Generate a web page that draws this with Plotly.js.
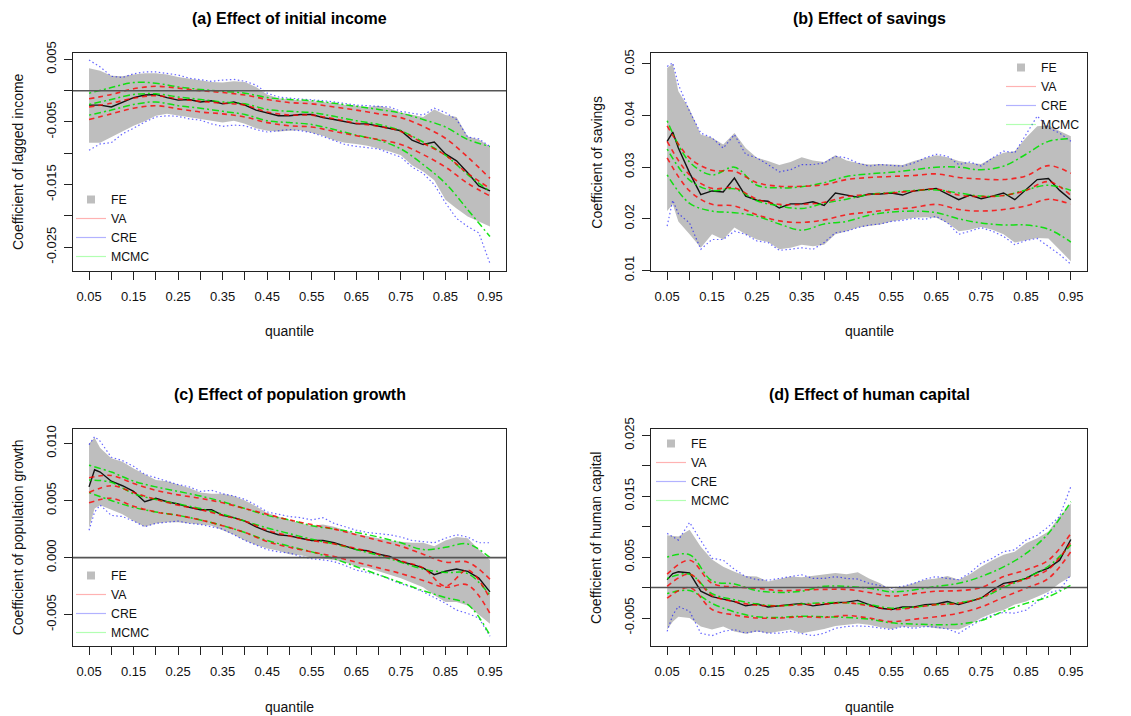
<!DOCTYPE html>
<html>
<head>
<meta charset="utf-8">
<script src="https://cdn.plot.ly/plotly-3.0.1.min.js"></script>
<style>html,body{margin:0;padding:0;background:#fff;}#chart{width:1131px;height:716px;}</style>
</head>
<body>
<div id="chart"></div>
<script>
// quantile grids
const q = [0.05,0.0625,0.075,0.1,0.125,0.15,0.175,0.2,0.225,0.25,0.275,0.3,0.325,0.35,0.375,0.4,0.425,0.45,0.475,0.5,0.525,0.55,0.575,0.6,0.625,0.65,0.675,0.7,0.725,0.75,0.775,0.8,0.825,0.85,0.875,0.9,0.925,0.95];
const q5 = [0.05,0.1,0.15,0.2,0.25,0.3,0.35,0.4,0.45,0.5,0.55,0.6,0.65,0.7,0.75,0.8,0.85,0.9,0.95];

// (a) initial income
const a_fe    = [-0.0023,-0.0023,-0.0023,-0.0026,-0.0018,-0.0011,-0.0007,-0.0006,-0.0011,-0.0015,-0.0014,-0.0018,-0.0016,-0.0021,-0.0018,-0.0023,-0.0031,-0.0036,-0.0040,-0.0040,-0.0038,-0.0038,-0.0043,-0.0046,-0.0050,-0.0053,-0.0053,-0.0057,-0.0060,-0.0064,-0.0079,-0.0086,-0.0082,-0.0101,-0.0112,-0.0131,-0.0152,-0.0160];
const a_fe_hi = [0.0036,0.0034,0.0032,0.0024,0.0023,0.0026,0.0028,0.0028,0.0026,0.0022,0.0019,0.0017,0.0014,0.0013,0.0015,0.0014,0.0006,-0.0006,-0.0012,-0.0014,-0.0015,-0.0016,-0.0018,-0.0020,-0.0023,-0.0024,-0.0026,-0.0024,-0.0028,-0.0035,-0.0039,-0.0042,-0.0030,-0.0039,-0.0042,-0.0073,-0.0078,-0.0089];
const a_fe_lo = [-0.0083,-0.0083,-0.0083,-0.0073,-0.0065,-0.0056,-0.0049,-0.0040,-0.0037,-0.0039,-0.0043,-0.0046,-0.0048,-0.0051,-0.0048,-0.0053,-0.0060,-0.0064,-0.0065,-0.0064,-0.0063,-0.0067,-0.0072,-0.0079,-0.0083,-0.0085,-0.0088,-0.0092,-0.0097,-0.0103,-0.0119,-0.0129,-0.0143,-0.0174,-0.0188,-0.0201,-0.0209,-0.0217];
const a_cre_hi = [0.0049,0.0044,0.0038,0.0023,0.0021,0.0027,0.0030,0.0030,0.0027,0.0025,0.0020,0.0017,0.0015,0.0017,0.0018,0.0015,0.0009,-0.0004,-0.0010,-0.0012,-0.0013,-0.0014,-0.0016,-0.0018,-0.0021,-0.0023,-0.0024,-0.0025,-0.0026,-0.0033,-0.0036,-0.0039,-0.0028,-0.0035,-0.0046,-0.0074,-0.0077,-0.0089];
const a_cre_lo = [-0.0095,-0.0090,-0.0085,-0.0083,-0.0069,-0.0060,-0.0050,-0.0042,-0.0040,-0.0041,-0.0045,-0.0047,-0.0053,-0.0057,-0.0055,-0.0056,-0.0062,-0.0066,-0.0064,-0.0062,-0.0064,-0.0067,-0.0073,-0.0079,-0.0086,-0.0089,-0.0091,-0.0093,-0.0100,-0.0106,-0.0122,-0.0132,-0.0150,-0.0179,-0.0204,-0.0217,-0.0227,-0.0276];
const a_va    = [-0.0026,-0.0020,-0.0012,-0.0008,-0.0013,-0.0017,-0.0020,-0.0023,-0.0034,-0.0039,-0.0039,-0.0045,-0.0052,-0.0057,-0.0065,-0.0084,-0.0103,-0.0132,-0.0156];
const a_va_hi = [-0.0013,-0.0006,0.0003,0.0007,0.0004,0.0000,-0.0003,-0.0007,-0.0014,-0.0019,-0.0021,-0.0026,-0.0031,-0.0037,-0.0043,-0.0057,-0.0076,-0.0106,-0.0140];
const a_va_lo = [-0.0046,-0.0037,-0.0028,-0.0024,-0.0029,-0.0034,-0.0037,-0.0042,-0.0051,-0.0056,-0.0058,-0.0065,-0.0072,-0.0078,-0.0086,-0.0102,-0.0122,-0.0148,-0.0168];
const a_mc    = [-0.0022,-0.0014,-0.0006,-0.0005,-0.0010,-0.0014,-0.0018,-0.0021,-0.0030,-0.0033,-0.0035,-0.0041,-0.0048,-0.0054,-0.0064,-0.0082,-0.0103,-0.0134,-0.0161];
const a_mc_hi = [-0.0004,0.0005,0.0013,0.0012,0.0006,0.0002,-0.0001,-0.0004,-0.0011,-0.0014,-0.0016,-0.0020,-0.0025,-0.0030,-0.0036,-0.0046,-0.0058,-0.0078,-0.0089];
const a_mc_lo = [-0.0039,-0.0031,-0.0022,-0.0018,-0.0024,-0.0028,-0.0033,-0.0038,-0.0048,-0.0051,-0.0054,-0.0062,-0.0071,-0.0079,-0.0093,-0.0118,-0.0148,-0.0190,-0.0233];

// (b) savings
const b_fe    = [0.0350,0.0368,0.0337,0.0289,0.0247,0.0254,0.0252,0.0279,0.0244,0.0236,0.0234,0.0221,0.0229,0.0229,0.0233,0.0226,0.0250,0.0246,0.0242,0.0248,0.0248,0.0250,0.0246,0.0254,0.0257,0.0259,0.0248,0.0237,0.0246,0.0239,0.0244,0.0250,0.0237,0.0257,0.0276,0.0278,0.0255,0.0237];
const b_fe_hi = [0.0492,0.0500,0.0447,0.0412,0.0363,0.0357,0.0344,0.0366,0.0337,0.0318,0.0312,0.0304,0.0310,0.0319,0.0313,0.0310,0.0323,0.0313,0.0308,0.0305,0.0306,0.0305,0.0304,0.0312,0.0318,0.0323,0.0319,0.0312,0.0308,0.0306,0.0318,0.0328,0.0331,0.0357,0.0379,0.0381,0.0370,0.0360];
const b_fe_lo = [0.0215,0.0228,0.0195,0.0170,0.0144,0.0170,0.0160,0.0183,0.0170,0.0160,0.0155,0.0141,0.0144,0.0150,0.0147,0.0150,0.0170,0.0176,0.0183,0.0186,0.0189,0.0195,0.0199,0.0202,0.0203,0.0202,0.0192,0.0176,0.0179,0.0184,0.0179,0.0170,0.0154,0.0158,0.0163,0.0162,0.0141,0.0118];
const b_cre_hi = [0.0495,0.0502,0.0460,0.0408,0.0366,0.0357,0.0337,0.0363,0.0325,0.0318,0.0305,0.0291,0.0295,0.0305,0.0305,0.0308,0.0321,0.0318,0.0308,0.0302,0.0305,0.0304,0.0302,0.0308,0.0318,0.0325,0.0321,0.0305,0.0310,0.0302,0.0318,0.0331,0.0328,0.0363,0.0399,0.0376,0.0366,0.0350];
const b_cre_lo = [0.0186,0.0236,0.0210,0.0192,0.0141,0.0160,0.0160,0.0176,0.0170,0.0157,0.0154,0.0139,0.0141,0.0144,0.0141,0.0154,0.0173,0.0176,0.0183,0.0188,0.0190,0.0195,0.0197,0.0201,0.0199,0.0205,0.0192,0.0170,0.0176,0.0183,0.0176,0.0166,0.0150,0.0158,0.0162,0.0147,0.0131,0.0112];
const b_va    = [0.0350,0.0285,0.0259,0.0260,0.0238,0.0228,0.0228,0.0232,0.0243,0.0247,0.0250,0.0254,0.0258,0.0246,0.0243,0.0245,0.0255,0.0272,0.0245];
const b_va_hi = [0.0380,0.0318,0.0294,0.0292,0.0270,0.0263,0.0263,0.0266,0.0276,0.0280,0.0282,0.0284,0.0287,0.0280,0.0277,0.0276,0.0283,0.0303,0.0288];
const b_va_lo = [0.0318,0.0254,0.0228,0.0225,0.0208,0.0196,0.0193,0.0198,0.0208,0.0213,0.0218,0.0222,0.0228,0.0218,0.0215,0.0218,0.0225,0.0238,0.0228];
const b_mc    = [0.0335,0.0275,0.0255,0.0258,0.0235,0.0225,0.0220,0.0230,0.0238,0.0247,0.0251,0.0255,0.0256,0.0250,0.0244,0.0245,0.0256,0.0265,0.0255];
const b_mc_hi = [0.0390,0.0310,0.0285,0.0300,0.0265,0.0260,0.0262,0.0270,0.0282,0.0287,0.0290,0.0295,0.0300,0.0300,0.0295,0.0302,0.0325,0.0350,0.0355];
const b_mc_lo = [0.0285,0.0230,0.0215,0.0212,0.0205,0.0190,0.0178,0.0190,0.0195,0.0207,0.0213,0.0215,0.0212,0.0200,0.0192,0.0188,0.0188,0.0180,0.0155];

// (c) population growth
const c_fe    = [0.0062,0.0077,0.0075,0.0067,0.0063,0.0058,0.0049,0.0052,0.0049,0.0047,0.0044,0.0042,0.0042,0.0037,0.0035,0.0032,0.0027,0.0023,0.0020,0.0019,0.0017,0.0015,0.0015,0.0013,0.0010,0.0007,0.0006,0.0003,0.0001,-0.00035,-0.0006,-0.0009,-0.0015,-0.0012,-0.0010,-0.0012,-0.0018,-0.0030];
const c_fe_hi = [0.0100,0.0105,0.0096,0.0087,0.0084,0.0078,0.0073,0.0068,0.0067,0.0064,0.0061,0.0057,0.0056,0.0056,0.0054,0.0050,0.0045,0.0039,0.0036,0.0033,0.0030,0.0028,0.0029,0.0027,0.0024,0.0021,0.0019,0.0017,0.0015,0.0014,0.0013,0.0013,0.0010,0.0015,0.0018,0.0017,0.0007,-0.0002];
const c_fe_lo = [0.0026,0.0043,0.0046,0.0042,0.0038,0.0032,0.0027,0.0030,0.0031,0.0031,0.0030,0.0029,0.0028,0.0024,0.0020,0.0015,0.0011,0.0008,0.0006,0.0003,0.0002,0.0000,-0.0001,-0.0002,-0.0004,-0.0008,-0.0009,-0.0012,-0.0015,-0.0018,-0.0022,-0.0026,-0.0033,-0.0039,-0.0039,-0.0042,-0.0050,-0.0058];
const c_cre_hi = [0.0099,0.0106,0.0102,0.0088,0.0085,0.0080,0.0073,0.0070,0.0067,0.0064,0.0062,0.0058,0.0059,0.0056,0.0054,0.0051,0.0046,0.0040,0.0038,0.0036,0.0035,0.0033,0.0035,0.0030,0.0027,0.0024,0.0022,0.0021,0.0020,0.0018,0.0015,0.0014,0.0013,0.0017,0.0020,0.0018,0.0013,0.0013];
const c_cre_lo = [0.0024,0.0040,0.0046,0.0037,0.0036,0.0032,0.0027,0.0030,0.0031,0.0032,0.0030,0.0029,0.0027,0.0025,0.0020,0.0015,0.0011,0.0007,0.0005,0.0004,0.0001,-0.0001,-0.0002,-0.00035,-0.0007,-0.0011,-0.0013,-0.0015,-0.0019,-0.0023,-0.0026,-0.0030,-0.0035,-0.0040,-0.0046,-0.0049,-0.0053,-0.0069];
const c_va    = [0.0057,0.0063,0.0057,0.0051,0.0046,0.0042,0.0037,0.0032,0.0024,0.0019,0.0015,0.0012,0.0008,0.0003,-0.0003,-0.0009,-0.0025,-0.0011,-0.0036];
const c_va_hi = [0.0070,0.0072,0.0065,0.0059,0.0055,0.0052,0.0048,0.0043,0.0038,0.0033,0.0029,0.0025,0.0020,0.0015,0.0010,0.0003,-0.0004,-0.0004,-0.0019];
const c_va_lo = [0.0048,0.0052,0.0045,0.0040,0.0037,0.0033,0.0028,0.0022,0.0014,0.0009,0.0005,0.0001,-0.0004,-0.0009,-0.0014,-0.0020,-0.0026,-0.0024,-0.0049];
const c_mc    = [0.0068,0.0066,0.0056,0.0051,0.0047,0.0043,0.0038,0.0032,0.0026,0.0021,0.0016,0.0012,0.0007,0.0002,-0.0004,-0.0010,-0.0013,-0.0014,-0.0033];
const c_mc_hi = [0.0081,0.0075,0.0067,0.0062,0.0058,0.0054,0.0049,0.0043,0.0037,0.0033,0.0028,0.0025,0.0022,0.0018,0.0013,0.0007,0.0009,0.0012,0.0000];
const c_mc_lo = [0.0057,0.0050,0.0044,0.0040,0.0037,0.0033,0.0028,0.0022,0.0015,0.0010,0.0005,-0.0001,-0.0008,-0.0015,-0.0022,-0.0029,-0.0035,-0.0041,-0.0068];

// (d) human capital
const d_fe    = [0.0013,0.0023,0.0026,0.0024,-0.0006,-0.0015,-0.0019,-0.0023,-0.0030,-0.0027,-0.0032,-0.0030,-0.0028,-0.0026,-0.0030,-0.0027,-0.0025,-0.0024,-0.0021,-0.0028,-0.0034,-0.0036,-0.0032,-0.0032,-0.0028,-0.0027,-0.0023,-0.0028,-0.0023,-0.00175,-0.0004,0.0007,0.0010,0.0015,0.0025,0.0032,0.0045,0.0079];
const d_fe_hi = [0.0086,0.0085,0.0084,0.0095,0.0067,0.0046,0.0034,0.0026,0.0019,0.0018,0.0010,0.0014,0.0018,0.0017,0.0019,0.0022,0.0024,0.0022,0.0025,0.0015,0.0007,-0.0004,0.0002,0.0007,0.0013,0.0015,0.0019,0.0013,0.0022,0.0034,0.0045,0.0054,0.0059,0.0073,0.0081,0.0092,0.0117,0.0138];
const d_fe_lo = [-0.0069,-0.0056,-0.0048,-0.0050,-0.0064,-0.0069,-0.0064,-0.0072,-0.0076,-0.0072,-0.0075,-0.0072,-0.0069,-0.0075,-0.0072,-0.0068,-0.0063,-0.0061,-0.0059,-0.0061,-0.0065,-0.0068,-0.0064,-0.0065,-0.0064,-0.0067,-0.0068,-0.0069,-0.0061,-0.0050,-0.0042,-0.0037,-0.0028,-0.0023,-0.0015,-0.0007,0.0007,0.0018];
const d_cre_hi = [0.0089,0.0083,0.0078,0.0107,0.0078,0.0048,0.0045,0.0030,0.0018,0.0013,0.0012,0.0015,0.0018,0.0021,0.0015,0.0015,0.0018,0.0015,0.0014,0.0007,0.0003,-0.0001,0.0002,0.0007,0.0014,0.0018,0.0015,0.0013,0.0024,0.0040,0.0048,0.0059,0.0062,0.0078,0.0086,0.0100,0.0117,0.0166];
const d_cre_lo = [-0.0072,-0.0045,-0.0031,-0.0039,-0.0075,-0.0079,-0.0072,-0.0069,-0.0075,-0.0071,-0.0075,-0.0075,-0.0072,-0.0076,-0.0079,-0.0075,-0.0067,-0.0064,-0.0063,-0.0064,-0.0067,-0.0069,-0.0064,-0.0067,-0.0064,-0.0065,-0.0068,-0.0075,-0.0064,-0.0053,-0.0045,-0.0041,-0.0042,-0.0037,-0.0023,-0.0009,-0.0004,0.0021];
const d_va    = [0.0002,0.0022,-0.0013,-0.0023,-0.0029,-0.0030,-0.0028,-0.0027,-0.0025,-0.0030,-0.0036,-0.0033,-0.0028,-0.0026,-0.0017,0.0003,0.0014,0.0030,0.0074];
const d_va_hi = [0.0022,0.0045,0.0007,0.0001,-0.0001,-0.0005,-0.0004,-0.0003,-0.0003,-0.0008,-0.0014,-0.0010,-0.0006,-0.0005,0.0000,0.0018,0.0029,0.0045,0.0089];
const d_va_lo = [-0.00175,0.0000,-0.0036,-0.0045,-0.0050,-0.0050,-0.0048,-0.0049,-0.0046,-0.0050,-0.0056,-0.0052,-0.0048,-0.0042,-0.0032,-0.0016,-0.0001,0.0015,0.0059];
const d_mc    = [0.0015,0.0022,-0.0010,-0.0020,-0.0027,-0.0030,-0.0027,-0.0025,-0.0025,-0.0028,-0.0034,-0.0032,-0.0028,-0.0025,-0.0017,0.0000,0.0016,0.0035,0.0070];
const d_mc_hi = [0.0050,0.0054,0.0011,0.0006,-0.0005,-0.0008,-0.0006,0.0002,0.0002,-0.0001,-0.0007,-0.0004,0.0002,0.0007,0.0018,0.0034,0.0056,0.0089,0.0141];
const d_mc_lo = [-0.0010,-0.0005,-0.0026,-0.0040,-0.0048,-0.0049,-0.0047,-0.0048,-0.0049,-0.0052,-0.0058,-0.0060,-0.0061,-0.0060,-0.0054,-0.0039,-0.0026,-0.0015,0.0004];

// tick labels
const xTickVals = [0.05,0.10,0.15,0.20,0.25,0.30,0.35,0.40,0.45,0.50,0.55,0.60,0.65,0.70,0.75,0.80,0.85,0.90,0.95];
const xTickText = ['0.05','','0.15','','0.25','','0.35','','0.45','','0.55','','0.65','','0.75','','0.85','','0.95'];
const aTickVals = [0.005,0,-0.005,-0.010,-0.015,-0.020,-0.025];
const aTickText = ['0.005','','-0.005','','-0.015','','-0.025'];
const bTickVals = [0.01,0.02,0.03,0.04,0.05];
const bTickText = ['0.01','0.02','0.03','0.04','0.05'];
const cTickVals = [-0.005,0,0.005,0.010];
const cTickText = ['-0.005','0.000','0.005','0.010'];
const dTickVals = [-0.005,0,0.005,0.010,0.015,0.020,0.025];
const dTickText = ['-0.005','','0.005','','0.015','','0.025'];

const titles = ['(a) Effect of initial income','(b) Effect of savings','(c) Effect of population growth','(d) Effect of human capital'];
const yLabels = ['Coefficient of lagged income','Coefficient of savings','Coefficient of population growth','Coefficient of human capital'];
const legendNames = ['FE','VA','CRE','MCMC'];

const FONT = 'Liberation Sans, Arial, Helvetica, sans-serif';
const RED = 'rgba(255,0,0,0.8)', GREEN = 'rgba(0,225,0,0.9)', BLUE = 'rgba(0,0,255,0.6)';

const panels = [
  {xa:'x',  ya:'y',  fe:a_fe, lo:a_fe_lo, hi:a_fe_hi, clo:a_cre_lo, chi:a_cre_hi, va:a_va, vlo:a_va_lo, vhi:a_va_hi, mc:a_mc, mlo:a_mc_lo, mhi:a_mc_hi},
  {xa:'x2', ya:'y2', fe:b_fe, lo:b_fe_lo, hi:b_fe_hi, clo:b_cre_lo, chi:b_cre_hi, va:b_va, vlo:b_va_lo, vhi:b_va_hi, mc:b_mc, mlo:b_mc_lo, mhi:b_mc_hi},
  {xa:'x3', ya:'y3', fe:c_fe, lo:c_fe_lo, hi:c_fe_hi, clo:c_cre_lo, chi:c_cre_hi, va:c_va, vlo:c_va_lo, vhi:c_va_hi, mc:c_mc, mlo:c_mc_lo, mhi:c_mc_hi},
  {xa:'x4', ya:'y4', fe:d_fe, lo:d_fe_lo, hi:d_fe_hi, clo:d_cre_lo, chi:d_cre_hi, va:d_va, vlo:d_va_lo, vhi:d_va_hi, mc:d_mc, mlo:d_mc_lo, mhi:d_mc_hi}
];

const traces = [];
function ln(x, y, p, color, width, dash, shape) {
  return {type:'scatter', mode:'lines', x:x, y:y, xaxis:p.xa, yaxis:p.ya, showlegend:false, hoverinfo:'skip',
          line:{color:color, width:width, dash:dash, shape:shape||'linear', smoothing:1}};
}
const legIds = ['legend','legend2','legend3','legend4'];
panels.forEach((p, i) => {
  traces.push({type:'scatter', mode:'lines', x:q.concat(q.slice().reverse()), y:p.hi.concat(p.lo.slice().reverse()),
               fill:'toself', fillcolor:'#bebebe', line:{width:0, color:'#bebebe'}, xaxis:p.xa, yaxis:p.ya, showlegend:false, hoverinfo:'skip'});
  traces.push(ln(q, p.chi, p, BLUE, 1.2, '1.5px,2.5px'));
  traces.push(ln(q, p.clo, p, BLUE, 1.2, '1.5px,2.5px'));
  traces.push(ln(q, p.fe, p, 'rgba(0,0,0,0.9)', 1.4, 'solid'));
  traces.push(ln(q5, p.mhi, p, GREEN, 1.5, '2px,3px,7px,3px', 'spline'));
  traces.push(ln(q5, p.mlo, p, GREEN, 1.5, '2px,3px,7px,3px', 'spline'));
  traces.push(ln(q5, p.mc, p, GREEN, 1.5, '2px,3px,7px,3px', 'spline'));
  traces.push(ln(q5, p.vhi, p, RED, 1.6, '5px,4px', 'spline'));
  traces.push(ln(q5, p.vlo, p, RED, 1.6, '5px,4px', 'spline'));
  traces.push(ln(q5, p.va, p, RED, 1.6, '5px,4px', 'spline'));
  // legend entries
  traces.push({type:'scatter', mode:'markers', x:[null], y:[null], name:legendNames[0], legend:legIds[i], xaxis:p.xa, yaxis:p.ya,
               marker:{symbol:'square', size:8, color:'#bebebe'}});
  [['rgba(255,0,0,0.3)',1],['rgba(0,0,255,0.3)',2],['rgba(0,255,0,0.3)',3]].forEach(([c,k]) => {
    traces.push({type:'scatter', mode:'lines', x:[null], y:[null], name:legendNames[k], legend:legIds[i], xaxis:p.xa, yaxis:p.ya,
                 line:{color:c, width:1.2}});
  });
});

const W = 1131, H = 716;
const colX = [[73,506],[651,1087]];
const rowY = [[53,271],[428.7,646]];
function xd(c){ return [colX[c][0]/W, colX[c][1]/W]; }
function yd(r){ return [1-rowY[r][1]/H, 1-rowY[r][0]/H]; }

function xaxis(c, yanchor) {
  return {domain:xd(c), anchor:yanchor, range:[0.014,0.986], showline:true, mirror:true, linecolor:'#222', linewidth:1,
          ticks:'outside', ticklen:8, tickwidth:1, tickcolor:'#222', tickmode:'array', tickvals:xTickVals, ticktext:xTickText,
          showgrid:false, zeroline:false, tickfont:{family:FONT, size:13, color:'#111'}, ticklabelstandoff:5};
}
function yaxis(r, c, xanchor, range, tv, tt) {
  return {domain:yd(r), anchor:xanchor, range:range, showline:true, mirror:true, linecolor:'#222', linewidth:1,
          ticks:'outside', ticklen:8, tickwidth:1, tickcolor:'#222', tickmode:'array', tickvals:tv, ticktext:tt, tickangle:-90,
          showgrid:false, zeroline:false, tickfont:{family:FONT, size:13, color:'#111'}, ticklabelstandoff:3};
}

const annotations = [];
const cells = [[0,0],[0,1],[1,0],[1,1]];
const titleY = [18.3, 18.3, 394, 394];
const xlabY = [331, 331, 706.7, 706.7];
const ylabX = [18, 596.7, 18, 596.7];
cells.forEach(([r,c], i) => {
  const cx = (colX[c][0]+colX[c][1])/2/W;
  const cy = 1 - (rowY[r][0]+rowY[r][1])/2/H;
  annotations.push({text:'<b>'+titles[i]+'</b>', xref:'paper', yref:'paper', x:cx, y:1-titleY[i]/H, xanchor:'center', yanchor:'middle',
                    showarrow:false, font:{family:FONT, size:16, color:'#000'}});
  annotations.push({text:'quantile', xref:'paper', yref:'paper', x:cx, y:1-xlabY[i]/H, xanchor:'center', yanchor:'middle',
                    showarrow:false, font:{family:FONT, size:14, color:'#111'}});
  annotations.push({text:yLabels[i], xref:'paper', yref:'paper', x:ylabX[i]/W, y:cy, xanchor:'center', yanchor:'middle', textangle:-90,
                    showarrow:false, font:{family:FONT, size:14, color:'#111'}});
});

const shapes = ['y','y3','y4'].map((ya, k) => ({type:'line', xref:['x','x3','x4'][k]+' domain', x0:0, x1:1, yref:ya, y0:0, y1:0,
                line:{color:'#555', width:1.6}}));

function legend(xpx, ypx) {
  return {x:xpx/W, y:1-ypx/H, xanchor:'left', yanchor:'top', bgcolor:'rgba(0,0,0,0)', borderwidth:0,
          font:{family:FONT, size:12.3, color:'#111'}, itemwidth:30, tracegroupgap:0};
}

const layout = {
  width:W, height:H, margin:{l:0,r:0,t:0,b:0}, paper_bgcolor:'#fff', plot_bgcolor:'#fff', showlegend:true,
  font:{family:FONT},
  xaxis: xaxis(0,'y'), yaxis: yaxis(0,0,'x',[-0.0288,0.00602], aTickVals, aTickText),
  xaxis2: xaxis(1,'y2'), yaxis2: yaxis(0,1,'x2',[0.0099,0.0521], bTickVals, bTickText),
  xaxis3: xaxis(0,'y3'), yaxis3: yaxis(1,0,'x3',[-0.00775,0.0113], cTickVals, cTickText),
  xaxis4: xaxis(1,'y4'), yaxis4: yaxis(1,1,'x4',[-0.0096,0.0261], dTickVals, dTickText),
  legend: legend(71, 185), legend2: legend(1001, 53), legend3: legend(71, 561), legend4: legend(651, 429),
  annotations: annotations, shapes: shapes
};

Plotly.newPlot('chart', traces, layout, {staticPlot:true, displayModeBar:false});
</script>
</body>
</html>
